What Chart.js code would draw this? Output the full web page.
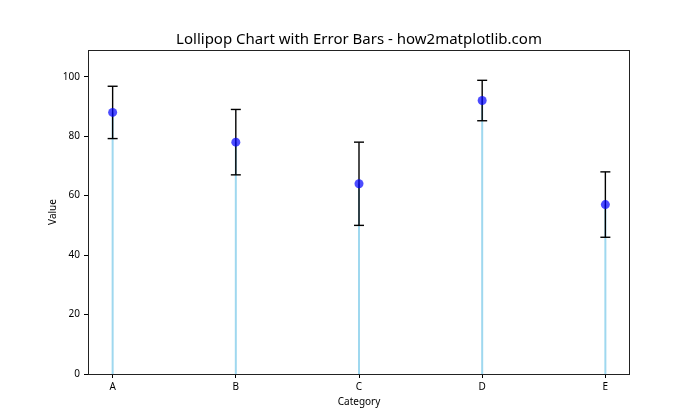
<!DOCTYPE html>
<html lang="en">
<head>
    <meta charset="UTF-8">
    <title>Lollipop Chart with Error Bars</title>
    <script src="https://cdn.jsdelivr.net/npm/chart.js"></script>
    <style>
        body {
            margin: 0;
            background-color: #fff;
        }
        #wrap {
            width: 700px;
            height: 420px;
        }
    </style>
</head>
<body>
    <div id="wrap">
        <canvas id="lollipopChart" width="700" height="420"></canvas>
    </div>

    <script>
        const categories = ['A', 'B', 'C', 'D', 'E'];
        const values = [88, 78, 64, 92, 57];
        const errors = [8.8, 11, 14, 6.8, 11];
        const yTicks = [0, 20, 40, 60, 80, 100];

        const fontFamily = '"Noto Sans", "DejaVu Sans", sans-serif';

        // one stem and one error bar per category
        const stemSets = categories.map((c, i) => ({
            type: 'line',
            data: [{ x: i, y: 0 }, { x: i, y: values[i] }],
            borderColor: 'rgba(135, 206, 235, 0.8)',
            borderWidth: 2,
            pointRadius: 0,
            order: 3
        }));

        const errorSets = categories.map((c, i) => ({
            type: 'line',
            data: [{ x: i, y: values[i] - errors[i] }, { x: i, y: values[i] + errors[i] }],
            borderColor: '#000',
            borderWidth: 1.4,
            pointStyle: 'line',
            pointRadius: 5,
            pointBorderColor: '#000',
            pointBorderWidth: 1.4,
            order: 2
        }));

        const markerSet = {
            type: 'scatter',
            data: categories.map((c, i) => ({ x: i, y: values[i] })),
            backgroundColor: 'rgba(0, 0, 255, 0.7)',
            borderColor: 'rgba(0, 0, 255, 0.7)',
            borderWidth: 0,
            pointRadius: 4.5,
            order: 1
        };

        // full box around the plot like matplotlib spines
        const frame = {
            id: 'frame',
            afterDraw(chart) {
                const { ctx, chartArea: a } = chart;
                ctx.save();
                ctx.strokeStyle = '#222';
                ctx.lineWidth = 1;
                ctx.strokeRect(a.left + 0.5, a.top + 0.5, a.right - a.left - 1, a.bottom - a.top);
                ctx.restore();
            }
        };

        new Chart(document.getElementById('lollipopChart'), {
            type: 'scatter',
            data: {
                datasets: [markerSet, ...errorSets, ...stemSets]
            },
            options: {
                responsive: false,
                animation: false,
                layout: {
                    padding: { left: 0, right: 70, top: 0, bottom: 0 }
                },
                plugins: {
                    legend: { display: false },
                    tooltip: { enabled: false },
                    title: {
                        display: true,
                        fullSize: false,
                        text: 'Lollipop Chart with Error Bars - how2matplotlib.com',
                        color: '#000',
                        font: { family: fontFamily, size: 15, weight: 'normal', lineHeight: 1.2 },
                        padding: { top: 31, bottom: 1 }
                    }
                },
                scales: {
                    x: {
                        type: 'linear',
                        min: -0.2,
                        max: 4.2,
                        afterFit(scale) { scale.height = 46; },
                        afterBuildTicks(scale) {
                            scale.ticks = categories.map((c, i) => ({ value: i }));
                        },
                        ticks: {
                            color: '#000',
                            padding: 3,
                            maxRotation: 0,
                            font: { family: fontFamily, size: 10 },
                            callback: (v) => categories[v]
                        },
                        grid: {
                            drawOnChartArea: false,
                            drawTicks: true,
                            tickLength: 4,
                            color: '#000'
                        },
                        border: { display: false },
                        title: {
                            display: true,
                            text: 'Category',
                            color: '#000',
                            font: { family: fontFamily, size: 10, lineHeight: 1.2 },
                            padding: { top: 0, bottom: 12 }
                        }
                    },
                    y: {
                        type: 'linear',
                        min: 0,
                        max: 109,
                        afterFit(scale) { scale.width = 88; },
                        afterBuildTicks(scale) {
                            scale.ticks = yTicks.map(v => ({ value: v }));
                        },
                        ticks: {
                            color: '#000',
                            padding: 4,
                            font: { family: fontFamily, size: 10 }
                        },
                        grid: {
                            drawOnChartArea: false,
                            drawTicks: true,
                            tickLength: 4,
                            color: '#000'
                        },
                        border: { display: false },
                        title: {
                            display: true,
                            text: 'Value',
                            color: '#000',
                            font: { family: fontFamily, size: 10, lineHeight: 1.2 },
                            padding: { top: 47, bottom: 0 }
                        }
                    }
                }
            },
            plugins: [frame]
        });
    </script>
</body>
</html>
